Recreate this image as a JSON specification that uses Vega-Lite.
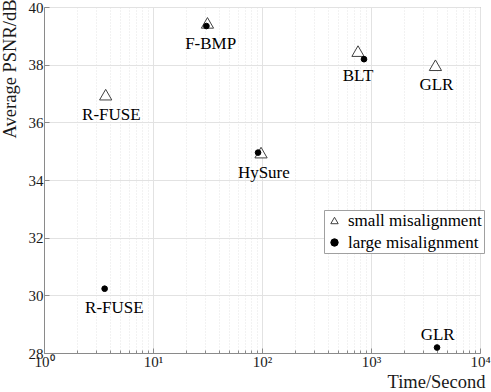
{
  "$schema": "https://vega.github.io/schema/vega-lite/v6.json",
  "width": 436,
  "height": 346,
  "autosize": "none",
  "padding": {"left": 44, "top": 7, "right": 11, "bottom": 39},
  "background": "white",
  "config": {
    "view": {"stroke": "#8a8a8a"},
    "font": "Liberation Serif",
    "axis": {
      "labelFont": "Liberation Serif",
      "titleFont": "Liberation Serif",
      "labelColor": "#1a1a1a",
      "titleColor": "#1a1a1a",
      "titleFontWeight": "normal",
      "domainColor": "#8a8a8a",
      "tickColor": "#8a8a8a",
      "labelFontSize": 15,
      "titleFontSize": 18.5
    },
    "legend": {
      "labelFont": "Liberation Serif", "labelFontSize": 17, "labelColor": "#000000"
    }
  },
  "datasets": {
    "pts": [
      {"method": "R-FUSE", "time": 3.68, "psnr": 36.96, "series": "small misalignment"},
      {"method": "F-BMP", "time": 31.6, "psnr": 39.45, "series": "small misalignment"},
      {"method": "HySure", "time": 98, "psnr": 34.95, "series": "small misalignment"},
      {"method": "BLT", "time": 760, "psnr": 38.47, "series": "small misalignment"},
      {"method": "GLR", "time": 3900, "psnr": 37.98, "series": "small misalignment"},
      {"method": "R-FUSE", "time": 3.6, "psnr": 30.23, "series": "large misalignment"},
      {"method": "F-BMP", "time": 30.9, "psnr": 39.34, "series": "large misalignment"},
      {"method": "HySure", "time": 92, "psnr": 34.95, "series": "large misalignment"},
      {"method": "BLT", "time": 863, "psnr": 38.19, "series": "large misalignment"},
      {"method": "GLR", "time": 4035, "psnr": 28.19, "series": "large misalignment"}
    ],
    "labels": [
      {"text": "F-BMP", "time": 33.8, "psnr": 38.73},
      {"text": "R-FUSE", "time": 4.15, "psnr": 36.27},
      {"text": "R-FUSE", "time": 4.42, "psnr": 29.57},
      {"text": "BLT", "time": 760, "psnr": 37.61},
      {"text": "GLR", "time": 3981, "psnr": 37.31},
      {"text": "HySure", "time": 104, "psnr": 34.24},
      {"text": "GLR", "time": 4090, "psnr": 28.61}
    ]
  },
  "encoding": {
    "x": {
      "field": "time", "type": "quantitative",
      "scale": {"type": "log", "domain": [1, 10000], "nice": false},
      "axis": {
        "orient": "bottom",
        "title": "Time/Second",
        "values": [1,2,3,4,5,6,7,8,9,10,20,30,40,50,60,70,80,90,100,200,300,400,500,600,700,800,900,1000,2000,3000,4000,5000,6000,7000,8000,9000,10000],
        "labelExpr": "datum.value == 1 ? '10⁰' : datum.value == 10 ? '10¹' : datum.value == 100 ? '10²' : datum.value == 1000 ? '10³' : datum.value == 10000 ? '10⁴' : ''",
        "labelOverlap": false,
        "labelBound": false,
        "labelFlush": false,
        "labelPadding": 6,
        "grid": true,
        "gridColor": {"condition": {"test": "indexof([1,10,100,1000,10000], datum.value) < 0", "value": "#e4e4e4"}, "value": "#e2e2e2"},
        "gridDash": {"condition": {"test": "indexof([1,10,100,1000,10000], datum.value) < 0", "value": [1, 2]}, "value": []},
        "tickSize": {"condition": {"test": "indexof([1,10,100,1000,10000], datum.value) < 0", "value": -3}, "value": -5},
        "titleAlign": "right",
        "titleAnchor": "end",
        "titleBaseline": "alphabetic",
        "titleX": 441,
        "titleY": 34
      }
    },
    "y": {
      "field": "psnr", "type": "quantitative",
      "scale": {"domain": [28, 40], "nice": false, "zero": false},
      "axis": {
        "orient": "left",
        "title": "Average PSNR/dB",
        "values": [28, 30, 32, 34, 36, 38, 40],
        "grid": true,
        "gridColor": "#e2e2e2",
        "tickSize": -5,
        "labelPadding": 6,
        "labelFlush": false,
        "titleAngle": 270,
        "titleAlign": "right",
        "titleBaseline": "alphabetic",
        "titleX": -29,
        "titleY": -8
      }
    }
  },
  "layer": [
    {
      "data": {"name": "pts"},
      "transform": [{"filter": "datum.series == 'small misalignment'"}],
      "mark": {"type": "point", "filled": true, "strokeWidth": 1, "opacity": 1, "size": 150},
      "encoding": {
        "shape": {
          "field": "series", "type": "nominal",
          "scale": {"domain": ["small misalignment", "large misalignment"], "range": ["triangle-up", "circle"]},
          "legend": {"title": null, "orient": "none", "legendX": 280, "legendY": 203, "padding": 2, "fillColor": "white", "strokeColor": "#a0a0a0", "labelFont": "Liberation Serif", "labelFontSize": 17, "labelColor": "#000000", "symbolSize": 55, "labelOffset": 5, "rowPadding": 4, "symbolStrokeWidth": 1}
        },
        "fill": {
          "field": "series", "type": "nominal",
          "scale": {"domain": ["small misalignment", "large misalignment"], "range": ["white", "black"]},
          "legend": {"title": null, "orient": "none", "legendX": 280, "legendY": 203, "padding": 2, "fillColor": "white", "strokeColor": "#a0a0a0", "labelFont": "Liberation Serif", "labelFontSize": 17, "labelColor": "#000000", "symbolSize": 55, "labelOffset": 5, "rowPadding": 4, "symbolStrokeWidth": 1}
        },
        "stroke": {
          "field": "series", "type": "nominal",
          "scale": {"domain": ["small misalignment", "large misalignment"], "range": ["#404040", "black"]},
          "legend": {"title": null, "orient": "none", "legendX": 280, "legendY": 203, "padding": 2, "fillColor": "white", "strokeColor": "#a0a0a0", "labelFont": "Liberation Serif", "labelFontSize": 17, "labelColor": "#000000", "symbolSize": 55, "labelOffset": 5, "rowPadding": 4, "symbolStrokeWidth": 1}
        }
      }
    },
    {
      "data": {"name": "pts"},
      "transform": [{"filter": "datum.series == 'large misalignment'"}],
      "mark": {"type": "point", "filled": true, "strokeWidth": 1, "opacity": 1, "size": 32},
      "encoding": {
        "shape": {"field": "series", "type": "nominal", "legend": {"title": null, "orient": "none", "legendX": 280, "legendY": 203, "padding": 2, "fillColor": "white", "strokeColor": "#a0a0a0", "labelFont": "Liberation Serif", "labelFontSize": 17, "labelColor": "#000000", "symbolSize": 55, "labelOffset": 5, "rowPadding": 4, "symbolStrokeWidth": 1}},
        "fill": {"field": "series", "type": "nominal", "legend": {"title": null, "orient": "none", "legendX": 280, "legendY": 203, "padding": 2, "fillColor": "white", "strokeColor": "#a0a0a0", "labelFont": "Liberation Serif", "labelFontSize": 17, "labelColor": "#000000", "symbolSize": 55, "labelOffset": 5, "rowPadding": 4, "symbolStrokeWidth": 1}},
        "stroke": {"field": "series", "type": "nominal", "legend": {"title": null, "orient": "none", "legendX": 280, "legendY": 203, "padding": 2, "fillColor": "white", "strokeColor": "#a0a0a0", "labelFont": "Liberation Serif", "labelFontSize": 17, "labelColor": "#000000", "symbolSize": 55, "labelOffset": 5, "rowPadding": 4, "symbolStrokeWidth": 1}}
      }
    },
    {
      "data": {"name": "labels"},
      "mark": {"type": "text", "font": "Liberation Serif", "fontSize": 17, "color": "#000000", "align": "center", "baseline": "middle"},
      "encoding": {
        "text": {"field": "text", "type": "nominal"}
      }
    }
  ]
}
